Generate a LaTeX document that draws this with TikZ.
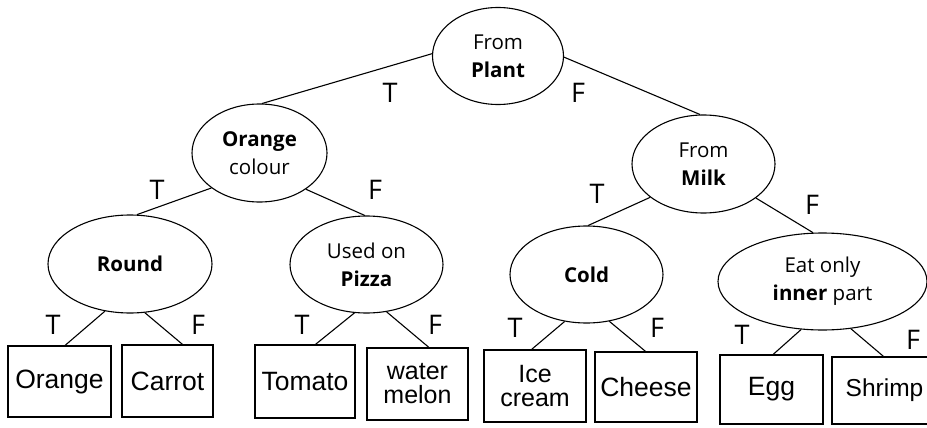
\documentclass[tikz,border=0pt]{standalone}
\usepackage{fontspec}
\setmainfont{Open Sans}
\newfontfamily\handfont{Liberation Sans}
\usetikzlibrary{shapes.geometric}
\tikzset{
  test/.style={draw, ellipse, line width=1.1pt, inner sep=0pt, align=center,
    font=\fontsize{20.5}{28}\selectfont},
  leaf/.style={draw, rectangle, line width=1.5pt, inner sep=0pt, align=center,
    font=\handfont\fontsize{26.5}{26}\selectfont},
  edge/.style={line width=1.1pt},
  tf/.style={font=\fontsize{27}{27}\selectfont, inner sep=0pt}
}
\begin{document}
\begin{tikzpicture}[x=1pt,y=-1pt]
\useasboundingbox (0,0) rectangle (927,428);
% decision nodes
\node[test, minimum width=131pt, minimum height=97pt] (root) at (498,56) {From\\\textbf{Plant}};
\node[test, minimum width=135pt, minimum height=98pt] (orc) at (259.5,153) {\textbf{Orange}\\colour};
\node[test, minimum width=143pt, minimum height=98pt] (milk) at (703.5,164) {From\\\textbf{Milk}};
\node[test, minimum width=164pt, minimum height=98pt] (round) at (130,264) {\textbf{Round}};
\node[test, minimum width=153pt, minimum height=97pt] (pizza) at (366.5,264.5) {Used on\\\textbf{Pizza}};
\node[test, minimum width=153pt, minimum height=97pt] (cold) at (586.5,274.5) {\textbf{Cold}};
\node[test, minimum width=209pt, minimum height=97pt] (eat) at (822.5,281.5) {Eat only\\\textbf{inner} part};
% leaves
\node[leaf, minimum width=103pt, minimum height=71pt] (orange) at (59.5,381.5) {Orange};
\node[leaf, minimum width=91pt, minimum height=72pt] (carrot) at (167.5,381) {Carrot};
\node[leaf, minimum width=100pt, minimum height=73pt] (tomato) at (305,381.5) {Tomato};
\node[leaf, minimum width=101pt, minimum height=72pt, font=\handfont\fontsize{25}{24}\selectfont] (water) at (417.5,384) {water\\melon};
\node[leaf, minimum width=102pt, minimum height=72pt, font=\handfont\fontsize{25}{24}\selectfont] (ice) at (535,386) {Ice\\cream};
\node[leaf, minimum width=102pt, minimum height=70pt] (cheese) at (646,387) {Cheese};
\node[leaf, minimum width=103pt, minimum height=69pt] (egg) at (771.5,389.5) {Egg};
\node[leaf, minimum width=105pt, minimum height=67pt, font=\handfont\fontsize{24.5}{24}\selectfont] (shrimp) at (884.5,390.5) {Shrimp};
% connectors
\draw[edge] (root.178) -- (orc.87);
\draw[edge] (root.359) -- (milk.94);
\draw[edge] (orc.216) -- (round.82);
\draw[edge] (orc.322.7) -- (pizza.92);
\draw[edge] (milk.212.9) -- (cold.88);
\draw[edge] (milk.327) -- (eat.101);
\draw[edge] (round.242.5) -- (orange.81);
\draw[edge] (round.287.4) -- (carrot.68);
\draw[edge] (pizza.256.7) -- (tomato.74);
\draw[edge] (pizza.293.9) -- (water.73.7);
\draw[edge] (cold.245.6) -- (ice.95);
\draw[edge] (cold.296.3) -- (cheese.91.6);
\draw[edge] (eat.246.7) -- (egg.87.6);
\draw[edge] (eat.301.8) -- (shrimp.92.6);
% labels
\node[tf] (t1) at (390,93) {T};
\node[tf] (f1) at (578,93) {F};
\node[tf] (t2) at (157,190) {T};
\node[tf] (f2) at (375,190) {F};
\node[tf] (t3) at (597,194) {T};
\node[tf] (f3) at (812,205) {F};
\node[tf] (t4) at (53,325) {T};
\node[tf] (f4) at (198,325) {F};
\node[tf] (t5) at (302,325) {T};
\node[tf] (f5) at (435,325) {F};
\node[tf] (t6) at (515,328) {T};
\node[tf] (f6) at (657,328) {F};
\node[tf] (t7) at (742,335) {T};
\node[tf] (f7) at (913,340) {F};
\end{tikzpicture}
\end{document}
